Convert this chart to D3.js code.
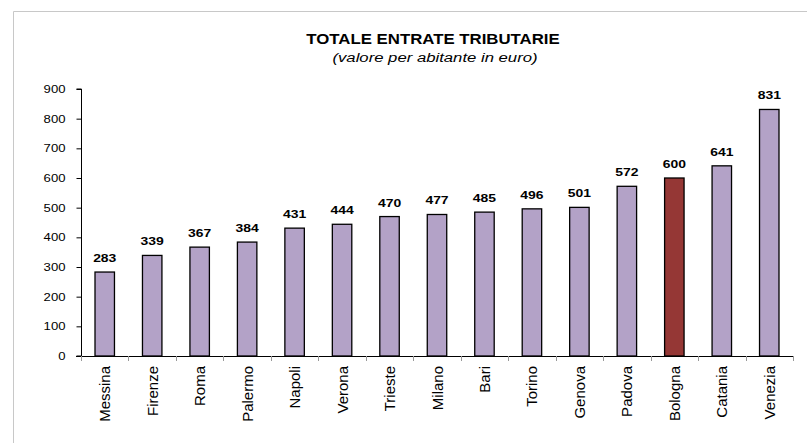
<!DOCTYPE html>
<html>
<head>
<meta charset="utf-8">
<script src="https://cdn.jsdelivr.net/npm/d3@7"></script>
<style>
  body { margin: 0; background: #fff; }
  svg { font-family: Arial, "Liberation Sans", sans-serif; }
</style>
</head>
<body>
<div id="chart"></div>
<script>
// Data
var cities = ["Messina", "Firenze", "Roma", "Palermo", "Napoli", "Verona", "Trieste", "Milano", "Bari", "Torino", "Genova", "Padova", "Bologna", "Catania", "Venezia"];
var values = [283, 339, 367, 384, 431, 444, 470, 477, 485, 496, 501, 572, 600, 641, 831];
var yTicks = [0, 100, 200, 300, 400, 500, 600, 700, 800, 900];
var highlight = "Bologna";

var w = 807, h = 443;
var stretch = 1.22; // horizontal text in the original is a bit wide

var svg = d3.select("#chart")
    .append("svg")
    .attr("width", w)
    .attr("height", h);

// frame (only top and left edges are visible)
svg.append("path")
    .attr("d", "M13.5," + h + "V11.5H" + w)
    .attr("fill", "none")
    .attr("stroke", "#c8c8c8")
    .attr("stroke-width", 1);

// helper: horizontally widened text
function wideText(sel, px, py, sx) {
    return sel.append("text")
        .attr("transform", "translate(" + px + "," + py + ") scale(" + sx + ",1)");
}

// titles
wideText(svg, 433, 43.5, 1.2)
    .attr("text-anchor", "middle")
    .style("font-weight", "bold")
    .style("font-size", "14px")
    .text("TOTALE ENTRATE TRIBUTARIE");

wideText(svg, 435, 61.5, stretch)
    .attr("text-anchor", "middle")
    .style("font-style", "italic")
    .style("font-size", "13.7px")
    .text("(valore per abitante in euro)");

var x = d3.scaleBand()
    .domain(cities)
    .range([81, 793])
    .paddingInner(0)
    .paddingOuter(0);

var y = d3.scaleLinear()
    .domain([0, 900])
    .range([356, 89]);

// y axis
var yAxis = svg.append("g")
    .attr("transform", "translate(81.5,0)")
    .call(d3.axisLeft(y).tickValues(yTicks).tickSize(5).tickPadding(6));
yAxis.select(".domain").attr("d", "M-5," + y(900) + "H0V" + y(0) + "H-5");
yAxis.selectAll("text")
    .attr("x", 0)
    .attr("transform", "translate(-16,0) scale(1.25,1)")
    .style("font-size", "10.5px")
    .attr("fill", "#000");
yAxis.selectAll("line, path").attr("stroke", "#000");

// x axis line and ticks between categories
var xg = svg.append("g");
xg.append("line")
    .attr("x1", 76).attr("x2", 793)
    .attr("y1", y(0) + 0.5).attr("y2", y(0) + 0.5)
    .attr("stroke", "#000");
xg.selectAll("line.tick")
    .data(cities.concat(["_end"]))
    .enter()
    .append("line")
    .attr("class", "tick")
    .attr("x1", function (d, i) { return Math.round(81 + i * x.bandwidth()) + 0.5; })
    .attr("x2", function (d, i) { return Math.round(81 + i * x.bandwidth()) + 0.5; })
    .attr("y1", y(0))
    .attr("y2", y(0) + 5)
    .attr("stroke", "#999");

// bars
var barW = x.bandwidth() * 0.41;
svg.selectAll("rect.bar")
    .data(values)
    .enter()
    .append("rect")
    .attr("class", "bar")
    .attr("x", function (d, i) { return x(cities[i]) + (x.bandwidth() - barW) / 2; })
    .attr("y", function (d) { return y(d); })
    .attr("width", barW)
    .attr("height", function (d) { return y(0) - y(d); })
    .attr("fill", function (d, i) { return cities[i] === highlight ? "#953735" : "#b3a2c7"; })
    .attr("stroke", "#000")
    .attr("stroke-width", 1.3);

// value labels
svg.selectAll("text.val")
    .data(values)
    .enter()
    .append("text")
    .attr("class", "val")
    .attr("transform", function (d, i) {
        return "translate(" + (x(cities[i]) + x.bandwidth() / 2) + "," + (y(d) - 10) + ") scale(1.2,1)";
    })
    .attr("text-anchor", "middle")
    .style("font-weight", "bold")
    .style("font-size", "11.6px")
    .text(function (d) { return d; });

// category labels, rotated
svg.selectAll("text.cat")
    .data(cities)
    .enter()
    .append("text")
    .attr("class", "cat")
    .attr("transform", function (d) {
        return "translate(" + (x(d) + x.bandwidth() / 2 + 5.5) + "," + (y(0) + 10) + ") rotate(-90)";
    })
    .attr("text-anchor", "end")
    .style("font-size", "15px")
    .text(function (d) { return d; });
</script>
</body>
</html>
